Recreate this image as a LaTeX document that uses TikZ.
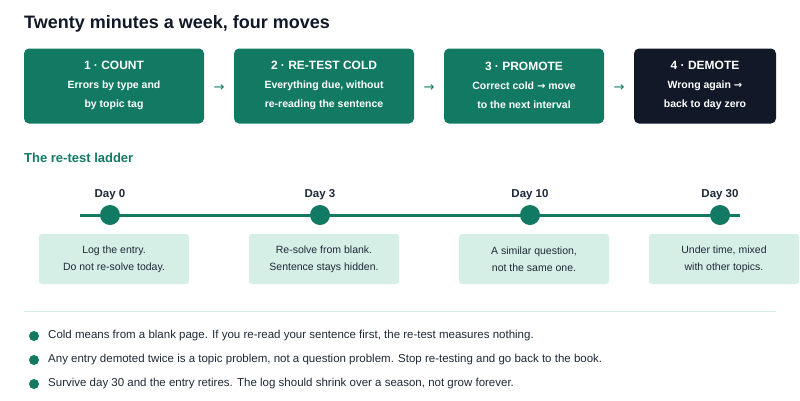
\documentclass[tikz,border=0pt]{standalone}
\usepackage{fontspec}
\setmainfont{Liberation Sans}
\newfontfamily\arrfont{DejaVu Sans}
\definecolor{grn}{HTML}{127A63}
\definecolor{drk}{HTML}{111827}
\definecolor{lgt}{HTML}{D5EEE6}
\definecolor{txt}{HTML}{1F2937}
\newcommand{\stepsmall}{\fontsize{10.5}{16.5}\selectfont}
\newcommand{\ra}{{\arrfont\fontsize{10}{10}\selectfont →}}
\begin{document}
\begin{tikzpicture}[x=1pt,y=-1pt,
 stepbox/.style={rounded corners=5pt,fill=grn,text=white,align=center,font=\fontsize{12}{19}\selectfont\bfseries,inner sep=0pt},
 arr/.style={font=\arrfont\fontsize{13}{13}\selectfont,text=grn},
 dot/.style={circle,fill=grn,minimum size=20pt,inner sep=0pt},
 day/.style={font=\fontsize{11.5}{13}\selectfont\bfseries,text=txt},
 card/.style={rounded corners=3pt,fill=lgt,text=txt,align=center,minimum width=150pt,minimum height=50pt,font=\fontsize{10.5}{17}\selectfont,inner sep=0pt},
 bul/.style={circle,fill=grn,minimum size=10pt,inner sep=0pt},
 btx/.style={anchor=west,font=\fontsize{11.5}{13}\selectfont,text=txt,inner sep=0pt}]
\useasboundingbox[fill=white] (0,0) rectangle (800,400);
\node[anchor=west,font=\fontsize{18}{20}\selectfont\bfseries,text=drk,inner sep=0pt] (title) at (24,24) {Twenty minutes a week, four moves};
\node[stepbox,minimum width=180pt,minimum height=75pt] (s1) at (114,86) {\mbox{}\\[-11pt]1 · COUNT\\\stepsmall Errors by type and\\\stepsmall by topic tag};
\node[stepbox,minimum width=180pt,minimum height=75pt] (s2) at (324,86) {\mbox{}\\[-11pt]2 · RE-TEST COLD\\\stepsmall Everything due, without\\\stepsmall re-reading the sentence};
\node[stepbox,minimum width=160pt,minimum height=75pt] (s3) at (524,86) {\mbox{}\\[-11pt]3 · PROMOTE\\\stepsmall Correct cold \ra{} move\\\stepsmall to the next interval};
\node[stepbox,fill=drk,minimum width=142pt,minimum height=75pt] (s4) at (705,86) {\mbox{}\\[-11pt]4 · DEMOTE\\\stepsmall Wrong again \ra\\\stepsmall back to day zero};
\node[arr] (a1) at (219,88) {→};
\node[arr] (a2) at (429,88) {→};
\node[arr] (a3) at (619,88) {→};
\node[anchor=west,font=\fontsize{13}{15}\selectfont\bfseries,text=grn,inner sep=0pt] (sub) at (24,158) {The re-test ladder};
\coordinate (l0) at (80,215); \coordinate (l1) at (740,215);
\draw[grn,line width=3pt] (l0) -- (l1);
\foreach \i/\x/\d/\a/\b in {1/110/Day 0/Log the entry./Do not re-solve today.,2/320/Day 3/Re-solve from blank./Sentence stays hidden.,3/530/Day 10/A similar question{,}/not the same one.,4/720/Day 30/Under time{,} mixed/with other topics.}{
 \node[dot] (d\i) at (\x,215) {};
 \node[day] (t\i) at (\x,195) {\d};
 \node[card] (c\i) at (\x+4,259) {\a\\\b};
}
\draw[lgt,line width=1pt] (24,311) -- (776,311);
\node[bul] (b1) at (34,336) {}; \node[btx] (bt1) at (48,336) {Cold means from a blank page. If you re-read your sentence first, the re-test measures nothing.};
\node[bul] (b2) at (34,360) {}; \node[btx] (bt2) at (48,360) {Any entry demoted twice is a topic problem, not a question problem. Stop re-testing and go back to the book.};
\node[bul] (b3) at (34,384) {}; \node[btx] (bt3) at (48,384) {Survive day 30 and the entry retires. The log should shrink over a season, not grow forever.};
\end{tikzpicture}
\end{document}
